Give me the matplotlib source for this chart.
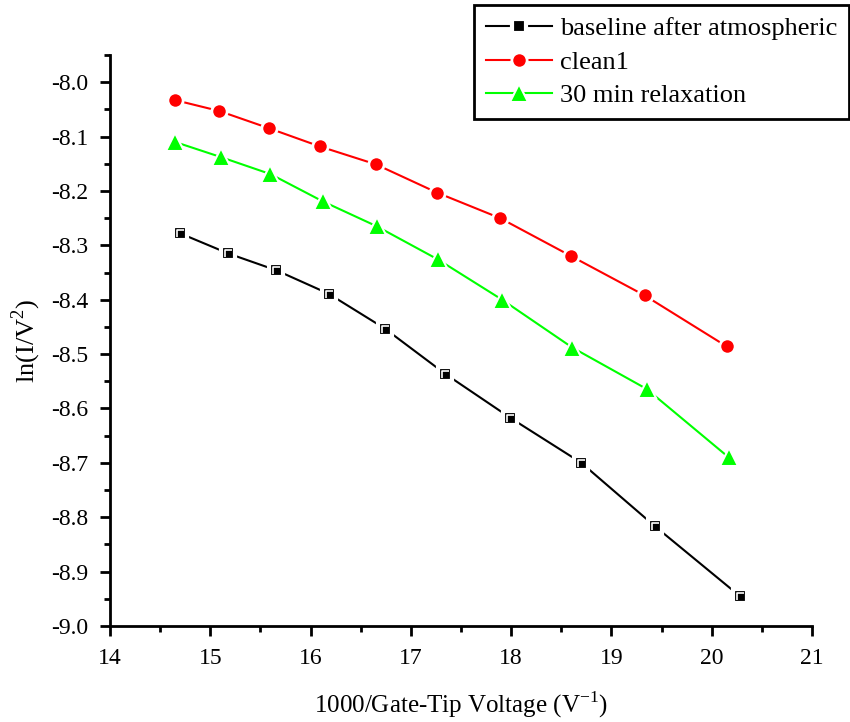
import matplotlib
matplotlib.use('Agg')
import matplotlib.pyplot as plt
from matplotlib.path import Path
from matplotlib.ticker import MultipleLocator

plt.rcParams['font.family'] = ['Liberation Serif', 'DejaVu Serif']
plt.rcParams['mathtext.fontset'] = 'custom'
plt.rcParams['mathtext.rm'] = 'Liberation Serif'

# baseline after atmospheric
x_base = [14.70, 15.18, 15.66, 16.18, 16.74, 17.34, 17.99, 18.70, 19.43, 20.28]
y_base = [-8.278, -8.315, -8.346, -8.389, -8.453, -8.536, -8.617, -8.700, -8.816, -8.945]

# clean1
x_clean = [14.65, 15.09, 15.59, 16.09, 16.65, 17.26, 17.89, 18.60, 19.33, 20.15]
y_clean = [-8.033, -8.053, -8.085, -8.118, -8.151, -8.203, -8.250, -8.320, -8.392, -8.486]

# 30 min relaxation
x_relax = [14.65, 15.11, 15.60, 16.12, 16.66, 17.27, 17.91, 18.61, 19.35, 20.17]
y_relax = [-8.110, -8.138, -8.169, -8.219, -8.265, -8.326, -8.400, -8.488, -8.564, -8.690]

labels = ['baseline after atmospheric', 'clean1', '30 min relaxation']

fig = plt.figure(figsize=(8.5, 7.22), dpi=100)
ax = fig.add_axes([110 / 850, 96 / 722, 702 / 850, 571 / 722])

# white marker edge mimics the gap between line and symbol
l1, = ax.plot(x_base, y_base, '-', color='black', lw=1.5, marker='s', ms=10.5,
              mfc='black', mec='white', mew=3)
# the little white corner inside the Origin square symbol
corner = Path([(-0.35, -0.45), (-0.35, 0.35), (0.45, 0.35)],
              [Path.MOVETO, Path.LINETO, Path.LINETO])
ax.plot(x_base, y_base, ls='none', marker=corner, ms=5.5, mec='white', mew=1.2, mfc='none')

l2, = ax.plot(x_clean, y_clean, '-', color='red', lw=1.5, marker='o', ms=11,
              mfc='red', mec='white', mew=2.0)
l3, = ax.plot(x_relax, y_relax, '-', color='#00ff00', lw=1.5, marker='^', ms=13,
              mfc='#00ff00', mec='white', mew=1.5)

ax.set_xlim(14, 21)
ax.set_ylim(-9.0, -7.95)
ax.xaxis.set_major_locator(MultipleLocator(1))
ax.xaxis.set_minor_locator(MultipleLocator(0.5))
ax.yaxis.set_major_locator(MultipleLocator(0.1))
ax.yaxis.set_minor_locator(MultipleLocator(0.05))
ax.yaxis.set_major_formatter(plt.FormatStrFormatter('%.1f'))

ax.spines['top'].set_visible(False)
ax.spines['right'].set_visible(False)
ax.spines['left'].set_linewidth(2)
ax.spines['bottom'].set_linewidth(2)
ax.tick_params(which='major', direction='out', length=7.5, width=2, labelsize=17, pad=8)
ax.tick_params(which='minor', direction='out', length=4.5, width=2)

ax.set_xlabel('1000/Gate-Tip Voltage (V$^{-1}$)', fontsize=18, labelpad=15)
ax.set_ylabel('ln(I/V$^{2}$)', fontsize=19, labelpad=6)

leg = fig.legend([l1, l2, l3], labels, loc='upper left',
                 bbox_to_anchor=(474 / 850, 1 - 5 / 722), fancybox=False,
                 edgecolor='black', framealpha=1, fontsize=19, handlelength=2.5,
                 borderpad=0.45, labelspacing=0.38, handletextpad=0.3,
                 borderaxespad=0)
leg.get_frame().set_linewidth(2)

fig.savefig('out.png', dpi=100)
